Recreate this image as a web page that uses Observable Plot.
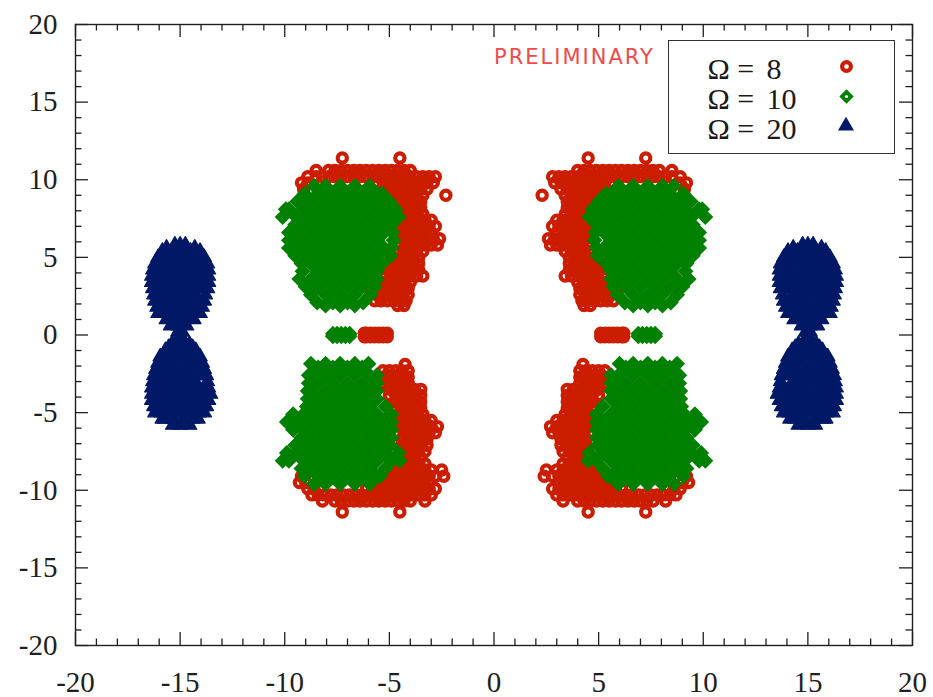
<!DOCTYPE html>
<html>
<head>
<meta charset="utf-8">
<script src="https://cdn.jsdelivr.net/npm/d3@7"></script>
<script src="https://cdn.jsdelivr.net/npm/@observablehq/plot@0.6"></script>
<style>
  html, body { margin: 0; padding: 0; background: #fff; }
  #wrap { position: relative; width: 933px; height: 697px; }
  #prelim { position: absolute; left: 494px; top: 47px; font-family: "DejaVu Sans", sans-serif; font-size: 21px; line-height: 21px; letter-spacing: 2px; color: #f04a4a; white-space: nowrap; }
  #legend { position: absolute; left: 668px; top: 40px; width: 227px; height: 114px; box-sizing: border-box; border: 1.5px solid #333; background: #fff; }
  .lab { position: absolute; font-family: "Liberation Serif", Tinos, "Times New Roman", serif; font-size: 30px; line-height: 26px; color: #1a1a1a; white-space: nowrap; }
</style>
</head>
<body>
<div id="wrap"></div>
<script>
// ---------------- data ----------------
const majorTicks = [-20, -15, -10, -5, 0, 5, 10, 15, 20];
const minorTicks = [-19,-18,-17,-16,-14,-13,-12,-11,-9,-8,-7,-6,-4,-3,-2,-1,1,2,3,4,6,7,8,9,11,12,13,14,16,17,18,19];

const omegaValues = [8, 10, 20];
const legendPrefix = "Ω =";
const watermark = "PRELIMINARY";

// rows: [y, x1, x2, ...]
// Omega = 8 (red rings)
const redUpperRight = [
  [11.4, 4.5, 7.25],
  [10.6, 4.0, 4.3, 4.6, 4.9, 5.2, 5.5, 5.8, 6.1, 6.4, 6.7, 7.0, 7.3, 7.6, 7.9, 8.5],
  [10.2, 2.8, 3.1, 3.4, 3.7, 4.0, 4.3, 4.6, 4.9, 5.2, 5.5, 5.8, 6.1, 6.4, 6.7, 7.0, 7.3, 7.6, 7.9, 8.2, 8.5, 8.9],
  [9.8, 2.9, 3.2, 3.5, 3.8, 4.1, 4.4, 4.7, 5.0, 5.3, 5.6, 8.9, 9.2],
  [9.4, 3.2, 3.5, 3.8, 4.1, 4.4, 4.7, 5.0, 5.3, 9.1],
  [9.0, 2.3, 3.4, 3.7, 4.0, 4.3, 4.6, 4.9],
  [8.6, 3.5, 3.8, 4.1, 4.4, 4.7],
  [8.2, 3.5, 3.8, 4.1, 4.4],
  [7.8, 3.4, 3.7, 4.0, 4.3],
  [7.4, 3.0, 3.3, 3.6, 3.9, 4.2, 4.5],
  [7.0, 2.8, 3.1, 3.4, 3.7, 4.0, 4.3, 4.6],
  [6.6, 3.0, 3.3, 3.6, 3.9, 4.2, 4.5],
  [6.2, 2.6, 2.9, 3.2, 3.5, 3.8, 4.1, 4.4],
  [5.8, 2.7, 3.0, 3.3, 3.6, 3.9, 4.2, 4.5],
  [5.4, 3.4, 3.7, 4.0, 4.3, 4.6],
  [5.0, 3.6, 3.9, 4.2, 4.5, 4.8],
  [4.6, 3.6, 3.9, 4.2, 4.5, 4.8, 5.1],
  [4.2, 3.6, 3.9, 4.2, 4.5, 4.8, 5.1],
  [3.8, 3.4, 3.7, 4.0, 4.3, 4.6, 4.9, 5.2],
  [3.4, 4.0, 4.3, 4.6, 4.9, 5.2, 5.5],
  [3.0, 4.1, 4.4, 4.7, 5.0, 5.3, 5.6],
  [2.6, 4.1, 4.4, 4.7, 5.0, 5.3, 5.6, 5.9],
  [2.2, 4.2, 4.5, 4.8, 5.1, 5.4, 5.7],
  [1.9, 4.3, 4.6]
];
const redLowerRight = [
  [-1.9, 4.25],
  [-2.3, 4.1, 4.4, 4.7, 5.0, 5.3],
  [-2.7, 4.1, 4.4, 4.7, 5.0, 5.3],
  [-3.1, 4.1, 4.4, 4.7, 5.0, 5.3],
  [-3.5, 3.5, 3.8, 4.1, 4.4, 4.7, 5.0],
  [-3.9, 3.5, 3.8, 4.1, 4.4, 4.7, 5.0],
  [-4.3, 3.5, 3.8, 4.1, 4.4, 4.7],
  [-4.7, 3.5, 3.8, 4.1, 4.4, 4.7],
  [-5.1, 3.4, 3.7, 4.0, 4.3, 4.6],
  [-5.5, 3.0, 3.3, 3.6, 3.9, 4.2, 4.5],
  [-5.9, 2.7, 3.0, 3.3, 3.6, 3.9, 4.2, 4.5],
  [-6.3, 2.8, 3.1, 3.4, 3.7, 4.0, 4.3, 4.6],
  [-6.7, 3.2, 3.5, 3.8, 4.1, 4.4],
  [-7.1, 3.2, 3.5, 3.8, 4.1, 4.4],
  [-7.5, 3.3, 3.6, 3.9, 4.2, 4.5],
  [-7.9, 3.5, 3.8, 4.1, 4.4, 4.7],
  [-8.3, 3.3, 3.6, 3.9, 4.2, 4.5, 4.8],
  [-8.7, 2.5, 3.0, 3.3, 3.6, 3.9, 4.2, 4.5, 4.8, 5.1],
  [-9.1, 2.4, 2.8, 3.1, 3.4, 3.7, 4.0, 4.3, 4.6, 4.9, 5.2, 5.5, 9.2],
  [-9.5, 3.1, 3.4, 3.7, 4.0, 4.3, 4.6, 4.9, 5.2, 5.5, 5.8, 9.0, 9.3],
  [-9.9, 2.8, 3.1, 3.4, 3.7, 4.0, 4.3, 4.6, 4.9, 5.2, 5.5, 5.8, 6.1, 8.6, 8.9],
  [-10.3, 3.0, 3.3, 3.6, 3.9, 4.2, 4.5, 4.8, 5.1, 5.4, 5.7, 6.0, 6.3, 6.6, 6.9, 7.2, 7.5, 7.8, 8.1, 8.4, 8.7],
  [-10.7, 3.3, 4.0, 4.3, 4.6, 4.9, 5.2, 5.5, 5.8, 6.1, 6.4, 6.7, 7.0, 7.3, 7.6, 8.2],
  [-11.4, 4.5, 7.25]
];
const redUpperLeft = [
  [11.4, -4.5, -7.25],
  [10.6, -4.0, -4.3, -4.6, -4.9, -5.2, -5.5, -5.8, -6.1, -6.4, -6.7, -7.0, -7.3, -7.6, -7.9, -8.5],
  [10.2, -2.8, -3.1, -3.4, -3.7, -4.0, -4.3, -4.6, -4.9, -5.2, -5.5, -5.8, -6.1, -6.4, -6.7, -7.0, -7.3, -7.6, -7.9, -8.2, -8.5, -8.9],
  [9.8, -2.9, -3.2, -3.5, -3.8, -4.1, -4.4, -4.7, -5.0, -5.3, -5.6, -8.9, -9.2],
  [9.4, -3.2, -3.5, -3.8, -4.1, -4.4, -4.7, -5.0, -5.3, -9.1],
  [9.0, -2.3, -3.4, -3.7, -4.0, -4.3, -4.6, -4.9],
  [8.6, -3.5, -3.8, -4.1, -4.4, -4.7],
  [8.2, -3.5, -3.8, -4.1, -4.4],
  [7.8, -3.4, -3.7, -4.0, -4.3],
  [7.4, -3.0, -3.3, -3.6, -3.9, -4.2, -4.5],
  [7.0, -2.8, -3.1, -3.4, -3.7, -4.0, -4.3, -4.6],
  [6.6, -3.0, -3.3, -3.6, -3.9, -4.2, -4.5],
  [6.2, -2.6, -2.9, -3.2, -3.5, -3.8, -4.1, -4.4],
  [5.8, -2.7, -3.0, -3.3, -3.6, -3.9, -4.2, -4.5],
  [5.4, -3.4, -3.7, -4.0, -4.3, -4.6],
  [5.0, -3.6, -3.9, -4.2, -4.5, -4.8],
  [4.6, -3.6, -3.9, -4.2, -4.5, -4.8, -5.1],
  [4.2, -3.6, -3.9, -4.2, -4.5, -4.8, -5.1],
  [3.8, -3.4, -3.7, -4.0, -4.3, -4.6, -4.9, -5.2],
  [3.4, -4.0, -4.3, -4.6, -4.9, -5.2, -5.5],
  [3.0, -4.1, -4.4, -4.7, -5.0, -5.3, -5.6],
  [2.6, -4.1, -4.4, -4.7, -5.0, -5.3, -5.6, -5.9],
  [2.2, -4.2, -4.5, -4.8, -5.1, -5.4, -5.7],
  [1.9, -4.3, -4.6]
];
const redLowerLeft = [
  [-1.9, -4.25],
  [-2.3, -4.1, -4.4, -4.7, -5.0, -5.3],
  [-2.7, -4.1, -4.4, -4.7, -5.0, -5.3],
  [-3.1, -4.1, -4.4, -4.7, -5.0, -5.3],
  [-3.5, -3.5, -3.8, -4.1, -4.4, -4.7, -5.0],
  [-3.9, -3.5, -3.8, -4.1, -4.4, -4.7, -5.0],
  [-4.3, -3.5, -3.8, -4.1, -4.4, -4.7],
  [-4.7, -3.5, -3.8, -4.1, -4.4, -4.7],
  [-5.1, -3.4, -3.7, -4.0, -4.3, -4.6],
  [-5.5, -3.0, -3.3, -3.6, -3.9, -4.2, -4.5],
  [-5.9, -2.7, -3.0, -3.3, -3.6, -3.9, -4.2, -4.5],
  [-6.3, -2.8, -3.1, -3.4, -3.7, -4.0, -4.3, -4.6],
  [-6.7, -3.2, -3.5, -3.8, -4.1, -4.4],
  [-7.1, -3.2, -3.5, -3.8, -4.1, -4.4],
  [-7.5, -3.3, -3.6, -3.9, -4.2, -4.5],
  [-7.9, -3.5, -3.8, -4.1, -4.4, -4.7],
  [-8.3, -3.3, -3.6, -3.9, -4.2, -4.5, -4.8],
  [-8.7, -2.5, -3.0, -3.3, -3.6, -3.9, -4.2, -4.5, -4.8, -5.1],
  [-9.1, -2.4, -2.8, -3.1, -3.4, -3.7, -4.0, -4.3, -4.6, -4.9, -5.2, -5.5, -9.2],
  [-9.5, -3.1, -3.4, -3.7, -4.0, -4.3, -4.6, -4.9, -5.2, -5.5, -5.8, -9.0, -9.3],
  [-9.9, -2.8, -3.1, -3.4, -3.7, -4.0, -4.3, -4.6, -4.9, -5.2, -5.5, -5.8, -6.1, -8.6, -8.9],
  [-10.3, -3.0, -3.3, -3.6, -3.9, -4.2, -4.5, -4.8, -5.1, -5.4, -5.7, -6.0, -6.3, -6.6, -6.9, -7.2, -7.5, -7.8, -8.1, -8.4, -8.7],
  [-10.7, -3.3, -4.0, -4.3, -4.6, -4.9, -5.2, -5.5, -5.8, -6.1, -6.4, -6.7, -7.0, -7.3, -7.6, -8.2],
  [-11.4, -4.5, -7.25]
];
const redCenter = [
  [0.12, 5.1, 5.3, 5.5, 5.7, 5.9, 6.1, 6.2, -5.1, -5.3, -5.5, -5.7, -5.9, -6.1, -6.2],
  [-0.12, 5.1, 5.3, 5.5, 5.7, 5.9, 6.1, 6.2, -5.1, -5.3, -5.5, -5.7, -5.9, -6.1, -6.2]
];

// Omega = 10 (green diamonds)
const greenUpperRight = [
  [9.6, 5.95, 6.65, 7.35, 8.05, 8.6],
  [9.1, 5.35, 5.6, 6.3, 7.0, 7.7, 8.4, 9.05],
  [8.6, 5.0, 5.25, 5.95, 6.65, 7.35, 8.05, 8.75, 9.4],
  [8.1, 4.7, 4.9, 5.6, 6.3, 7.0, 7.7, 8.4, 9.1, 9.8, 9.95],
  [7.6, 4.55, 5.25, 5.95, 6.65, 7.35, 8.05, 8.75, 9.45, 10.1],
  [7.1, 4.9, 5.6, 6.3, 7.0, 7.7, 8.4, 9.1, 9.5],
  [6.6, 4.85, 5.25, 5.95, 6.65, 7.35, 8.05, 8.75, 9.45, 9.8],
  [6.1, 4.8, 5.6, 6.3, 7.0, 7.7, 8.4, 9.1, 9.8],
  [5.6, 4.9, 5.25, 5.95, 6.65, 7.35, 8.05, 8.75, 9.45, 9.8],
  [5.1, 4.95, 5.6, 6.3, 7.0, 7.7, 8.4, 9.1, 9.5],
  [4.6, 5.35, 5.95, 6.65, 7.35, 8.05, 8.75, 9.2],
  [4.1, 5.6, 6.3, 7.0, 7.7, 8.4, 9.15],
  [3.6, 5.6, 5.95, 6.65, 7.35, 8.05, 8.75, 9.3],
  [3.1, 5.7, 6.3, 7.0, 7.7, 8.4, 9.0],
  [2.6, 5.9, 6.65, 7.35, 8.05, 8.75],
  [2.1, 6.25, 7.0, 7.7, 8.45],
  [1.9, 6.65, 7.35, 8.05]
];
const greenLowerRight = [
  [-1.85, 6.0, 6.65, 7.35, 8.05, 8.75],
  [-2.1, 6.3, 7.0, 7.7, 8.4],
  [-2.6, 5.6, 5.95, 6.65, 7.35, 8.05, 8.75, 8.85],
  [-3.1, 5.6, 6.3, 7.0, 7.7, 8.4, 8.85],
  [-3.6, 5.6, 5.95, 6.65, 7.35, 8.05, 8.75, 8.9],
  [-4.1, 5.6, 6.3, 7.0, 7.7, 8.4, 8.9],
  [-4.6, 5.2, 5.95, 6.65, 7.35, 8.05, 8.75, 8.95],
  [-5.1, 4.9, 5.6, 6.3, 7.0, 7.7, 8.4, 9.1, 9.6],
  [-5.6, 4.9, 5.25, 5.95, 6.65, 7.35, 8.05, 8.75, 9.45, 9.9],
  [-6.1, 4.9, 5.6, 6.3, 7.0, 7.7, 8.4, 9.1, 9.6],
  [-6.6, 4.9, 5.25, 5.95, 6.65, 7.35, 8.05, 8.75, 9.2],
  [-7.1, 4.95, 5.6, 6.3, 7.0, 7.7, 8.4, 9.1, 9.5],
  [-7.6, 4.55, 5.25, 5.95, 6.65, 7.35, 8.05, 8.75, 9.45, 9.9],
  [-8.1, 4.5, 4.9, 5.6, 6.3, 7.0, 7.7, 8.4, 9.1, 9.8, 10.1],
  [-8.6, 5.2, 5.95, 6.65, 7.35, 8.05, 8.75, 9.2],
  [-9.1, 5.45, 5.6, 6.3, 7.0, 7.7, 8.4, 9.05],
  [-9.6, 5.95, 6.65, 7.35, 8.05, 8.6]
];
const greenUpperLeft = [
  [9.6, -5.95, -6.65, -7.35, -8.05, -8.6],
  [9.1, -5.35, -5.6, -6.3, -7.0, -7.7, -8.4, -9.05],
  [8.6, -5.0, -5.25, -5.95, -6.65, -7.35, -8.05, -8.75, -9.4],
  [8.1, -4.7, -4.9, -5.6, -6.3, -7.0, -7.7, -8.4, -9.1, -9.8, -9.95],
  [7.6, -4.55, -5.25, -5.95, -6.65, -7.35, -8.05, -8.75, -9.45, -10.1],
  [7.1, -4.9, -5.6, -6.3, -7.0, -7.7, -8.4, -9.1, -9.5],
  [6.6, -4.85, -5.25, -5.95, -6.65, -7.35, -8.05, -8.75, -9.45, -9.8],
  [6.1, -4.8, -5.6, -6.3, -7.0, -7.7, -8.4, -9.1, -9.8],
  [5.6, -4.9, -5.25, -5.95, -6.65, -7.35, -8.05, -8.75, -9.45, -9.8],
  [5.1, -4.95, -5.6, -6.3, -7.0, -7.7, -8.4, -9.1, -9.5],
  [4.6, -5.35, -5.95, -6.65, -7.35, -8.05, -8.75, -9.2],
  [4.1, -5.6, -6.3, -7.0, -7.7, -8.4, -9.15],
  [3.6, -5.6, -5.95, -6.65, -7.35, -8.05, -8.75, -9.3],
  [3.1, -5.7, -6.3, -7.0, -7.7, -8.4, -9.0],
  [2.6, -5.9, -6.65, -7.35, -8.05, -8.75],
  [2.1, -6.25, -7.0, -7.7, -8.45],
  [1.9, -6.65, -7.35, -8.05]
];
const greenLowerLeft = [
  [-1.85, -6.0, -6.65, -7.35, -8.05, -8.75],
  [-2.1, -6.3, -7.0, -7.7, -8.4],
  [-2.6, -5.6, -5.95, -6.65, -7.35, -8.05, -8.75, -8.85],
  [-3.1, -5.6, -6.3, -7.0, -7.7, -8.4, -8.85],
  [-3.6, -5.6, -5.95, -6.65, -7.35, -8.05, -8.75, -8.9],
  [-4.1, -5.6, -6.3, -7.0, -7.7, -8.4, -8.9],
  [-4.6, -5.2, -5.95, -6.65, -7.35, -8.05, -8.75, -8.95],
  [-5.1, -4.9, -5.6, -6.3, -7.0, -7.7, -8.4, -9.1, -9.6],
  [-5.6, -4.9, -5.25, -5.95, -6.65, -7.35, -8.05, -8.75, -9.45, -9.9],
  [-6.1, -4.9, -5.6, -6.3, -7.0, -7.7, -8.4, -9.1, -9.6],
  [-6.6, -4.9, -5.25, -5.95, -6.65, -7.35, -8.05, -8.75, -9.2],
  [-7.1, -4.95, -5.6, -6.3, -7.0, -7.7, -8.4, -9.1, -9.5],
  [-7.6, -4.55, -5.25, -5.95, -6.65, -7.35, -8.05, -8.75, -9.45, -9.9],
  [-8.1, -4.5, -4.9, -5.6, -6.3, -7.0, -7.7, -8.4, -9.1, -9.8, -10.1],
  [-8.6, -5.2, -5.95, -6.65, -7.35, -8.05, -8.75, -9.2],
  [-9.1, -5.45, -5.6, -6.3, -7.0, -7.7, -8.4, -9.05],
  [-9.6, -5.95, -6.65, -7.35, -8.05, -8.6]
];
const greenCenter = [
  [0.08, 6.9, 7.1, 7.3, 7.5, 7.7, -6.9, -7.1, -7.3, -7.5, -7.7],
  [-0.08, 6.9, 7.1, 7.3, 7.5, 7.7, -6.9, -7.1, -7.3, -7.5, -7.7]
];

// Omega = 20 (blue triangles)
const blueRight = [
  [5.8, 14.75, 15.0, 15.25],
  [5.6, 14.3, 14.75, 15.25, 15.65],
  [5.4, 14.05, 14.5, 14.95, 15.4, 15.85],
  [5.0, 13.85, 14.3, 14.75, 15.2, 15.65, 16.05],
  [4.6, 13.7, 14.15, 14.6, 15.05, 15.5, 15.95, 16.2],
  [4.2, 13.65, 13.9, 14.35, 14.8, 15.25, 15.7, 16.15, 16.3],
  [3.8, 13.65, 14.1, 14.55, 15.0, 15.45, 15.9, 16.35],
  [3.4, 13.65, 13.9, 14.35, 14.8, 15.25, 15.7, 16.15, 16.35],
  [3.0, 13.7, 14.1, 14.55, 15.0, 15.45, 15.9, 16.3],
  [2.6, 13.8, 14.3, 14.75, 15.2, 15.65, 16.1, 16.25],
  [2.2, 13.85, 14.1, 14.55, 15.0, 15.45, 15.9, 16.2],
  [1.8, 13.95, 14.35, 14.8, 15.25, 15.7, 16.1],
  [1.4, 14.05, 14.55, 15.0, 15.45, 15.9, 16.05],
  [1.0, 14.35, 14.8, 15.25, 15.65],
  [0.6, 14.7, 15.1, 15.45],
  [0.2, 14.9, 15.1],
  [-0.2, 14.9, 15.1],
  [-0.6, 14.55, 15.0, 15.4],
  [-0.8, 14.4, 14.8, 15.2, 15.55],
  [-1.0, 14.25, 14.7, 15.15, 15.6, 15.7],
  [-1.4, 14.05, 14.45, 14.9, 15.35, 15.8, 15.95],
  [-1.8, 13.95, 14.25, 14.7, 15.15, 15.6, 16.05],
  [-2.2, 13.85, 14.4, 14.85, 15.3, 15.75, 16.15],
  [-2.6, 13.75, 14.15, 14.6, 15.05, 15.5, 15.95, 16.25],
  [-3.0, 13.7, 14.35, 14.8, 15.25, 15.7, 16.15, 16.3],
  [-3.4, 13.65, 14.1, 14.55, 15.0, 15.45, 15.9, 16.35],
  [-3.8, 13.55, 13.9, 14.35, 14.8, 15.25, 15.7, 16.15, 16.35],
  [-4.2, 13.65, 14.1, 14.55, 15.0, 15.45, 15.9, 16.35],
  [-4.6, 13.75, 13.9, 14.35, 14.8, 15.25, 15.7, 16.15, 16.25],
  [-5.0, 13.85, 14.1, 14.55, 15.0, 15.45, 15.9, 16.2],
  [-5.4, 14.15, 14.4, 14.85, 15.3, 15.75, 15.85],
  [-5.8, 14.55, 15.0, 15.35]
];
const blueLeft = [
  [5.8, -14.75, -15.0, -15.25],
  [5.6, -14.3, -14.75, -15.25, -15.65],
  [5.4, -14.05, -14.5, -14.95, -15.4, -15.85],
  [5.0, -13.85, -14.3, -14.75, -15.2, -15.65, -16.05],
  [4.6, -13.7, -14.15, -14.6, -15.05, -15.5, -15.95, -16.2],
  [4.2, -13.65, -13.9, -14.35, -14.8, -15.25, -15.7, -16.15, -16.3],
  [3.8, -13.65, -14.1, -14.55, -15.0, -15.45, -15.9, -16.35],
  [3.4, -13.65, -13.9, -14.35, -14.8, -15.25, -15.7, -16.15, -16.35],
  [3.0, -13.7, -14.1, -14.55, -15.0, -15.45, -15.9, -16.3],
  [2.6, -13.8, -14.3, -14.75, -15.2, -15.65, -16.1, -16.25],
  [2.2, -13.85, -14.1, -14.55, -15.0, -15.45, -15.9, -16.2],
  [1.8, -13.95, -14.35, -14.8, -15.25, -15.7, -16.1],
  [1.4, -14.05, -14.55, -15.0, -15.45, -15.9, -16.05],
  [1.0, -14.35, -14.8, -15.25, -15.65],
  [0.6, -14.7, -15.1, -15.45],
  [0.2, -14.9, -15.1],
  [-0.2, -14.9, -15.1],
  [-0.6, -14.55, -15.0, -15.4],
  [-0.8, -14.4, -14.8, -15.2, -15.55],
  [-1.0, -14.25, -14.7, -15.15, -15.6, -15.7],
  [-1.4, -14.05, -14.45, -14.9, -15.35, -15.8, -15.95],
  [-1.8, -13.95, -14.25, -14.7, -15.15, -15.6, -16.05],
  [-2.2, -13.85, -14.4, -14.85, -15.3, -15.75, -16.15],
  [-2.6, -13.75, -14.15, -14.6, -15.05, -15.5, -15.95, -16.25],
  [-3.0, -13.7, -14.35, -14.8, -15.25, -15.7, -16.15, -16.3],
  [-3.4, -13.65, -14.1, -14.55, -15.0, -15.45, -15.9, -16.35],
  [-3.8, -13.55, -13.9, -14.35, -14.8, -15.25, -15.7, -16.15, -16.35],
  [-4.2, -13.65, -14.1, -14.55, -15.0, -15.45, -15.9, -16.35],
  [-4.6, -13.75, -13.9, -14.35, -14.8, -15.25, -15.7, -16.15, -16.25],
  [-5.0, -13.85, -14.1, -14.55, -15.0, -15.45, -15.9, -16.2],
  [-5.4, -14.15, -14.4, -14.85, -15.3, -15.75, -15.85],
  [-5.8, -14.55, -15.0, -15.35]
];

// ---------------- styling ----------------
const RED = "#cd1d00", GREEN = "#008000", BLUE = "#001966", AXIS = "#1f1f1f";
const SERIF = "'Liberation Serif', Tinos, 'Times New Roman', serif";
const W = 933, H = 697, ML = 75, MR = 21, MT = 24, MB = 52;
const FW = W - ML - MR, FH = H - MT - MB;
const MAJ = 13, MIN = 6.5;

const toPoints = rows => rows.flatMap(([y, ...xs]) => xs.map(x => ({x, y})));
const redPts = [redUpperRight, redLowerRight, redUpperLeft, redLowerLeft, redCenter].flatMap(toPoints);
const greenPts = [greenUpperRight, greenLowerRight, greenUpperLeft, greenLowerLeft, greenCenter].flatMap(toPoints);
const bluePts = [blueRight, blueLeft].flatMap(toPoints);

const tickStyle = {stroke: AXIS, strokeWidth: 1.3};

const chart = Plot.plot({
  width: W, height: H,
  marginLeft: ML, marginRight: MR, marginTop: MT, marginBottom: MB,
  x: {domain: [-20, 20], label: null},
  y: {domain: [-20, 20], label: null},
  style: {fontFamily: SERIF, fontSize: "29px", color: AXIS, background: "#fff"},
  marks: [
    Plot.dot(redPts, {x: "x", y: "y", symbol: "circle", r: 4.6, stroke: RED, strokeWidth: 4.2, fill: "none"}),
    Plot.dot(greenPts, {x: "x", y: "y", symbol: "diamond2", r: 7.2, fill: GREEN}),
    Plot.dot(bluePts, {x: "x", y: "y", symbol: "triangle", r: 5.4, fill: BLUE, stroke: BLUE, strokeWidth: 1.2, strokeLinejoin: "round"}),
    // inward ticks on all four sides
    Plot.tickX(majorTicks, {x: d => d, insetTop: FH - MAJ, ...tickStyle}),
    Plot.tickX(majorTicks, {x: d => d, insetBottom: FH - MAJ, ...tickStyle}),
    Plot.tickX(minorTicks, {x: d => d, insetTop: FH - MIN, ...tickStyle}),
    Plot.tickX(minorTicks, {x: d => d, insetBottom: FH - MIN, ...tickStyle}),
    Plot.tickY(majorTicks, {y: d => d, insetRight: FW - MAJ, ...tickStyle}),
    Plot.tickY(majorTicks, {y: d => d, insetLeft: FW - MAJ, ...tickStyle}),
    Plot.tickY(minorTicks, {y: d => d, insetRight: FW - MIN, ...tickStyle}),
    Plot.tickY(minorTicks, {y: d => d, insetLeft: FW - MIN, ...tickStyle}),
    Plot.axisX({ticks: majorTicks, tickSize: 0, tickPadding: 26, tickFormat: d => String(d), fontSize: 29, fontFamily: SERIF, fill: AXIS}),
    Plot.axisY({ticks: majorTicks, tickSize: 0, tickPadding: 18, tickFormat: d => String(d), fontSize: 29, fontFamily: SERIF, fill: AXIS}),
    Plot.frame({stroke: AXIS, strokeWidth: 1.4})
  ]
});

const wrap = document.getElementById("wrap");
wrap.appendChild(chart);

// watermark
const pre = document.createElement("div");
pre.id = "prelim";
pre.textContent = watermark;
wrap.appendChild(pre);

// legend
const legend = document.createElement("div");
legend.id = "legend";
wrap.appendChild(legend);
const rowTops = [15, 45, 75];
omegaValues.forEach((v, i) => {
  const a = document.createElement("div");
  a.className = "lab"; a.style.left = "38.5px"; a.style.top = rowTops[i] + "px";
  a.textContent = legendPrefix;
  legend.appendChild(a);
  const b = document.createElement("div");
  b.className = "lab"; b.style.left = "97.5px"; b.style.top = rowTops[i] + "px";
  b.textContent = String(v);
  legend.appendChild(b);
});
const lsvg = d3.select(legend).append("svg")
  .attr("width", 224).attr("height", 111)
  .style("position", "absolute").style("left", "0px").style("top", "0px");
lsvg.append("path").attr("transform", "translate(177.5,25.5)")
  .attr("d", d3.symbol(d3.symbolCircle, Math.PI * 4.4 * 4.4)())
  .attr("fill", "none").attr("stroke", RED).attr("stroke-width", 4.2);
lsvg.append("path").attr("transform", "translate(177.5,55.5)")
  .attr("d", d3.symbol(d3.symbolDiamond2, 132)())
  .attr("fill", GREEN);
lsvg.append("circle").attr("cx", 177.5).attr("cy", 55.5).attr("r", 1.6).attr("fill", "#fff");
lsvg.append("path").attr("transform", "translate(177,85)")
  .attr("d", d3.symbol(d3.symbolTriangle, 111)())
  .attr("fill", BLUE);
</script>
</body>
</html>
